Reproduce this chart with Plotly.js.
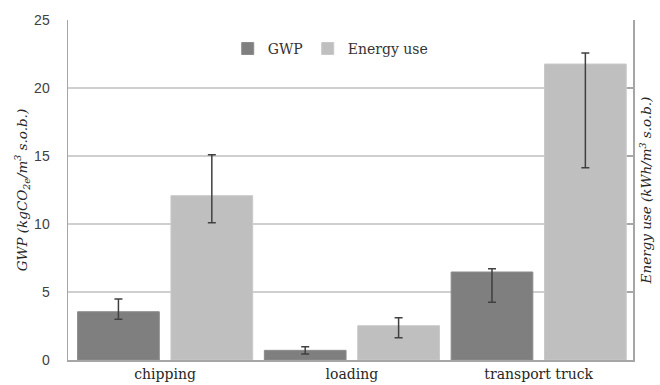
<!DOCTYPE html>
<html>
<head>
<meta charset="utf-8">
<script src="https://cdn.plot.ly/plotly-3.0.1.min.js"></script>
<style>html,body{margin:0;padding:0;background:#fff;}#chart{width:660px;height:385px;}</style>
</head>
<body>
<div id="chart"></div>
<script>
var categories = ["chipping", "loading", "transport truck"];
var gwp = [3.55, 0.71, 6.47];
var gwpHigh = [4.49, 0.98, 6.71];
var gwpLow = [2.99, 0.44, 4.24];
var energy = [12.08, 2.52, 21.76];
var energyHigh = [15.1, 3.11, 22.57];
var energyLow = [10.1, 1.64, 14.14];
var yTicks = [0, 5, 10, 15, 20, 25];

function plus(v, h) { return v.map(function (x, i) { return h[i] - x; }); }
function minus(v, l) { return v.map(function (x, i) { return x - l[i]; }); }

var errStyle = { color: '#404040', thickness: 1.5, width: 4 };
var serif = 'DejaVu Serif, Liberation Serif, serif';

var traces = [
  {
    type: 'bar', name: 'GWP', x: categories, y: gwp,
    offsetgroup: 'a', alignmentgroup: 'g',
    marker: { color: '#7f7f7f', line: { color: '#8c8c8c', width: 1 } },
    error_y: Object.assign({ type: 'data', symmetric: false, array: plus(gwp, gwpHigh), arrayminus: minus(gwp, gwpLow) }, errStyle)
  },
  {
    type: 'bar', name: 'Energy use', x: categories, y: energy, yaxis: 'y2',
    offsetgroup: 'b', alignmentgroup: 'g',
    marker: { color: '#bfbfbf', line: { color: '#c8c8c8', width: 1 } },
    error_y: Object.assign({ type: 'data', symmetric: false, array: plus(energy, energyHigh), arrayminus: minus(energy, energyLow) }, errStyle)
  }
];

var layout = {
  width: 660, height: 385,
  margin: { l: 68, r: 27, t: 20, b: 25 },
  paper_bgcolor: '#fff', plot_bgcolor: '#fff',
  barmode: 'group', bargap: 0, bargroupgap: 0.125,
  showlegend: true,
  legend: {
    orientation: 'h', x: 0.465, xanchor: 'center', y: 0.915, yanchor: 'middle',
    font: { family: serif, size: 14, color: '#333' },
    bgcolor: 'rgba(0,0,0,0)'
  },
  xaxis: {
    range: [-0.52, 2.505], automargin: false,
    showline: true, linecolor: '#a6a6a6', linewidth: 1.5,
    ticks: '', showgrid: false,
    tickfont: { family: serif, size: 14, color: '#262626' },
    ticklabelstandoff: 1
  },
  yaxis: {
    range: [0, 25], tickvals: yTicks, ticktext: yTicks.map(String), automargin: false,
    showline: true, linecolor: '#a6a6a6', linewidth: 1.5,
    showgrid: true, gridcolor: '#cfcfcf', gridwidth: 1.3, zeroline: false,
    ticks: '', ticklabelstandoff: 14,
    tickfont: { family: 'Liberation Sans, Arial, sans-serif', size: 14, color: '#404040' },
    title: {
      text: '<i>GWP (kgCO<sub>2e</sub>/m<sup>3</sup> s.o.b.)</i>',
      font: { family: serif, size: 13.5, color: '#262626' },
      standoff: 3
    }
  },
  yaxis2: {
    range: [0, 25], tickvals: yTicks, overlaying: 'y', side: 'right', automargin: false,
    showline: true, linecolor: '#a6a6a6', linewidth: 1.5,
    showgrid: false, zeroline: false, showticklabels: false,
    ticks: 'inside', ticklen: 6, tickcolor: '#a6a6a6', tickwidth: 1.3,
    title: {
      text: '<i>Energy use (kWh/m<sup>3</sup> s.o.b.)</i>',
      font: { family: serif, size: 13.5, color: '#262626' },
      standoff: 8
    }
  }
};

Plotly.newPlot('chart', traces, layout, { staticPlot: true, displayModeBar: false });
</script>
</body>
</html>
